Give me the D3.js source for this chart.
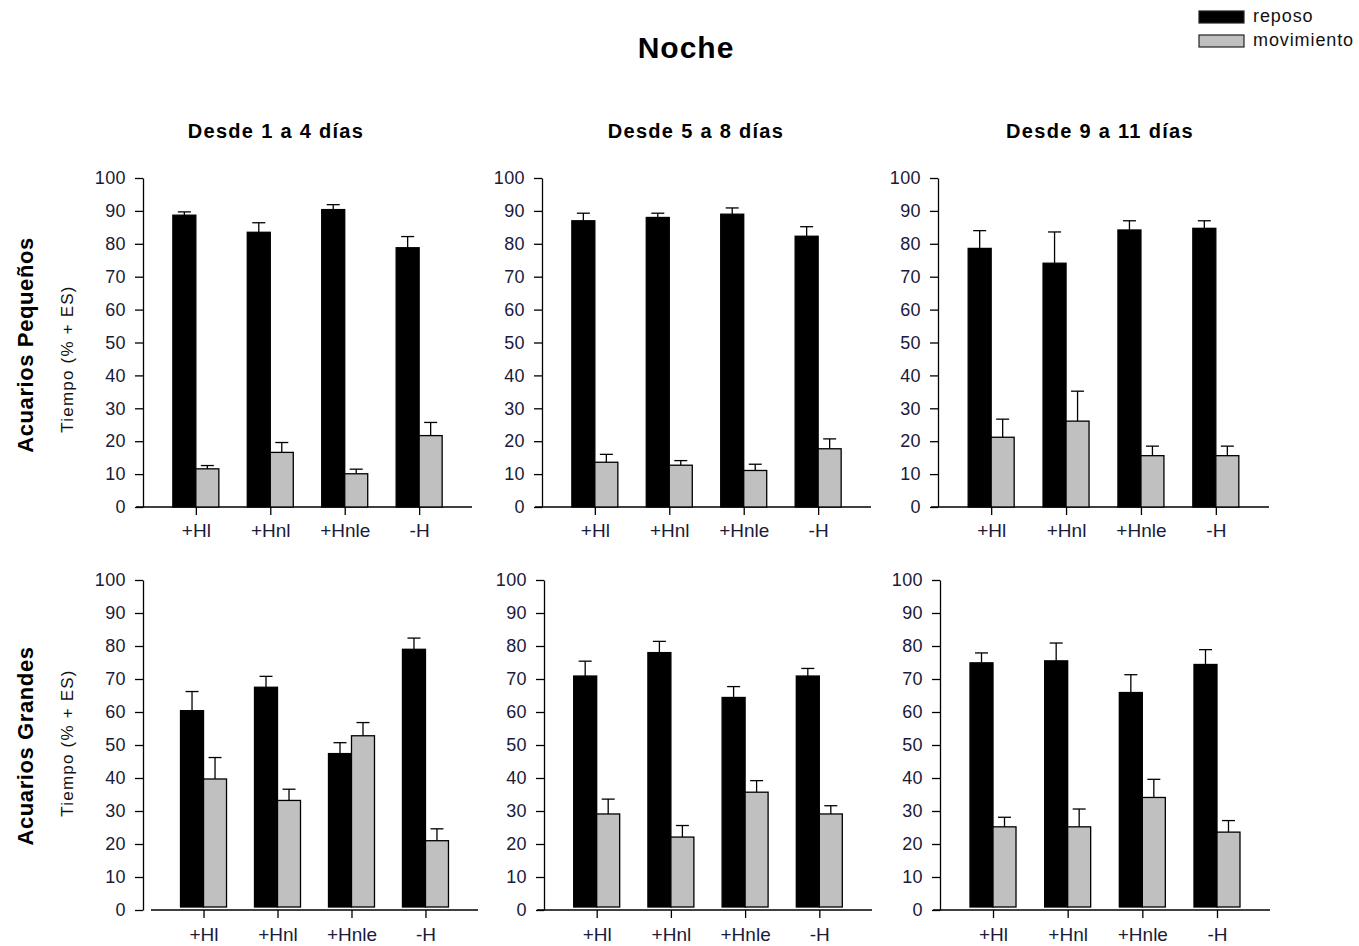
<!DOCTYPE html>
<html>
<head>
<meta charset="utf-8">
<script src="https://cdn.jsdelivr.net/npm/d3@7"></script>
<style>
  html, body { margin: 0; padding: 0; background: #fff; }
  svg { display: block; font-family: Arial, "Liberation Sans", sans-serif; }
</style>
</head>
<body>
<svg id="chart" width="1359" height="946"></svg>
<script>
// Categories, panel titles and tick values
const categories = ["+Hl", "+Hnl", "+Hnle", "-H"];
const periods = ["Desde 1 a 4 días", "Desde 5 a 8 días", "Desde 9 a 11 días"];
const rowLabels = ["Acuarios Pequeños", "Acuarios Grandes"];
const seriesNames = ["reposo", "movimiento"];
const yTicks = [0, 10, 20, 30, 40, 50, 60, 70, 80, 90, 100];

// Mean time (%) per period (outer) and category (inner), with standard error
const reposoPequenos = [[88.7, 83.5, 90.4, 78.8], [87.0, 88.0, 89.0, 82.3], [78.6, 74.1, 84.2, 84.7]];
const reposoPequenosES = [[1.0, 2.9, 1.5, 3.4], [2.3, 1.3, 1.9, 2.9], [5.4, 9.5, 2.8, 2.3]];
const movimientoPequenos = [[11.6, 16.6, 10.1, 21.7], [13.6, 12.7, 11.1, 17.7], [21.2, 26.1, 15.6, 15.6]];
const movimientoPequenosES = [[1.0, 3.0, 1.4, 4.0], [2.4, 1.4, 1.9, 3.0], [5.5, 9.1, 2.9, 2.9]];
const reposoGrandes = [[60.4, 67.5, 47.4, 79.0], [70.9, 78.0, 64.4, 70.9], [74.9, 75.5, 65.9, 74.4]];
const reposoGrandesES = [[5.8, 3.3, 3.3, 3.4], [4.5, 3.4, 3.3, 2.3], [3.0, 5.4, 5.4, 4.5]];
const movimientoGrandes = [[39.7, 33.2, 52.8, 21.0], [29.1, 22.1, 35.7, 29.1], [25.2, 25.2, 34.1, 23.6]];
const movimientoGrandesES = [[6.5, 3.4, 4.0, 3.6], [4.5, 3.5, 3.5, 2.5], [2.9, 5.4, 5.5, 3.5]];

const seriesByRow = [
  [{ values: reposoPequenos, errors: reposoPequenosES }, { values: movimientoPequenos, errors: movimientoPequenosES }],
  [{ values: reposoGrandes, errors: reposoGrandesES }, { values: movimientoGrandes, errors: movimientoGrandesES }]
];

const fills = ["#000000", "#c0c0c0"];
const tickColor = "#1a1a3a";

// Panel geometry
const rowLayout = [
  { top: 178, bottom: 507, catY: 537, barLift: 0, rowLabelY: 345, unitLabelY: 359 },
  { top: 580, bottom: 910, catY: 941, barLift: 3, rowLabelY: 746, unitLabelY: 743 }
];
const panelLayout = [
  [ { axisX: 143, lineStart: 136, start: 143, end: 472 },
    { axisX: 542, lineStart: 535, start: 542, end: 871 },
    { axisX: 938, lineStart: 931, start: 938, end: 1269 } ],
  [ { axisX: 143, lineStart: 151, start: 151, end: 478 },
    { axisX: 544, lineStart: 537, start: 544, end: 872 },
    { axisX: 940, lineStart: 933, start: 940, end: 1270 } ]
];
const titleX = [276, 696, 1100];
const barW = 23;
const capHalf = 6.5;

const svg = d3.select("#chart");

// Main title
svg.append("text")
  .attr("x", 686).attr("y", 58)
  .attr("text-anchor", "middle")
  .style("font-size", "30px").style("font-weight", "bold")
  .style("letter-spacing", "1px")
  .text("Noche");

// Period titles
periods.forEach((p, i) => {
  svg.append("text")
    .attr("x", titleX[i]).attr("y", 138)
    .attr("text-anchor", "middle")
    .style("font-size", "20px").style("font-weight", "bold")
    .style("letter-spacing", "1.3px")
    .text(p);
});

// Legend
const legend = svg.append("g").attr("class", "legend");
seriesNames.forEach((name, i) => {
  const ly = 11 + i * 24;
  legend.append("rect")
    .attr("x", 1199).attr("y", ly).attr("width", 45).attr("height", 12)
    .attr("fill", fills[i]).attr("stroke", "#222").attr("stroke-width", 1.2);
  legend.append("text")
    .attr("x", 1253).attr("y", ly + 11)
    .style("font-size", "18px").style("letter-spacing", "0.9px")
    .attr("fill", "#111")
    .text(name);
});

rowLayout.forEach((row, r) => {
  const y = d3.scaleLinear().domain([0, 100]).range([row.bottom, row.top]);

  // Row labels
  svg.append("text")
    .attr("transform", `translate(33,${row.rowLabelY}) rotate(-90)`)
    .attr("text-anchor", "middle")
    .style("font-size", "22px").style("font-weight", "bold")
    .style("letter-spacing", "0.6px")
    .text(rowLabels[r]);
  svg.append("text")
    .attr("transform", `translate(73,${row.unitLabelY}) rotate(-90)`)
    .attr("text-anchor", "middle")
    .style("font-size", "17px").style("letter-spacing", "1.2px")
    .attr("fill", "#111")
    .text("Tiempo (% + ES)");

  panelLayout[r].forEach((pl, c) => {
    const x = d3.scalePoint().domain(categories).range([pl.start, pl.end]).padding(0.71);
    const g = svg.append("g");

    // Y axis
    const yAxis = d3.axisLeft(y).tickValues(yTicks).tickSize(8).tickPadding(9).tickSizeOuter(0);
    const ya = g.append("g").attr("transform", `translate(${pl.axisX},0)`).call(yAxis);
    ya.select(".domain").attr("stroke", "#000").attr("stroke-width", 1.3);
    ya.selectAll(".tick line").attr("stroke", "#000").attr("stroke-width", 1.3);
    ya.selectAll(".tick text")
      .attr("fill", tickColor)
      .style("font-size", "18px").style("letter-spacing", "0.4px")
      .style("font-family", "Arial, 'Liberation Sans', sans-serif");

    // X axis
    const xAxis = d3.axisBottom(x).tickSize(8).tickPadding(11).tickSizeOuter(0);
    const xa = g.append("g").attr("transform", `translate(0,${row.bottom})`).call(xAxis);
    xa.select(".domain").remove();
    xa.append("line")
      .attr("x1", pl.lineStart).attr("x2", pl.end)
      .attr("stroke", "#000").attr("stroke-width", 1.3);
    xa.selectAll(".tick line").attr("stroke", "#000").attr("stroke-width", 1.3);
    xa.selectAll(".tick text")
      .attr("fill", tickColor)
      .attr("y", row.catY - row.bottom).attr("dy", 0)
      .style("font-size", "19px").style("font-family", "Arial, 'Liberation Sans', sans-serif");

    // Bars and upper error bars
    seriesByRow[r].forEach((s, k) => {
      const vals = s.values[c];
      const errs = s.errors[c];
      const data = categories.map((cat, j) => ({ cat, v: vals[j], e: errs[j] }));
      const bx = d => x(d.cat) + (k === 0 ? -barW : 0);
      const eg = g.append("g");
      eg.selectAll("line.err")
        .data(data).join("line")
        .attr("x1", d => bx(d) + barW / 2).attr("x2", d => bx(d) + barW / 2)
        .attr("y1", d => y(d.v)).attr("y2", d => y(d.v + d.e))
        .attr("stroke", "#000").attr("stroke-width", 1.3);
      eg.selectAll("line.cap")
        .data(data).join("line")
        .attr("x1", d => bx(d) + barW / 2 - capHalf).attr("x2", d => bx(d) + barW / 2 + capHalf)
        .attr("y1", d => y(d.v + d.e)).attr("y2", d => y(d.v + d.e))
        .attr("stroke", "#000").attr("stroke-width", 1.3);
      g.append("g").selectAll("rect")
        .data(data).join("rect")
        .attr("x", bx)
        .attr("y", d => y(d.v))
        .attr("width", barW)
        .attr("height", d => y(0) - row.barLift - y(d.v))
        .attr("fill", fills[k])
        .attr("stroke", "#000").attr("stroke-width", 1.3);
    });
  });
});
</script>
</body>
</html>
